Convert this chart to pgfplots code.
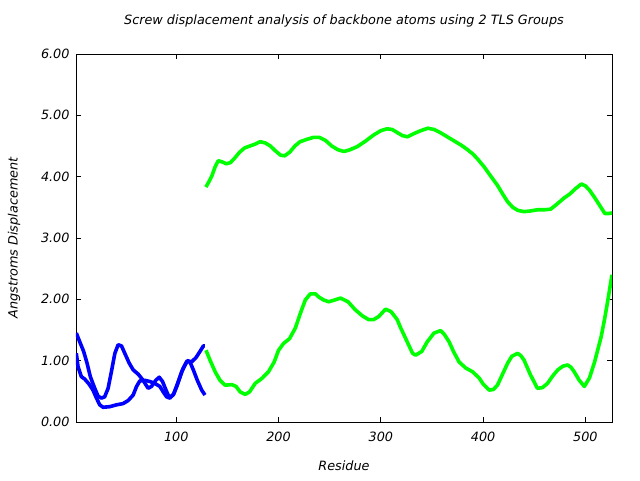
\documentclass[border=0pt]{standalone}
\usepackage{fontspec}
\setmainfont{DejaVu Sans}
\usepackage{pgfplots}
\pgfplotsset{compat=1.18}
\definecolor{gblue}{RGB}{0,0,255}
\definecolor{ggreen}{RGB}{0,255,0}
\newcommand{\gfont}{\fontsize{12.8}{14}\selectfont}
\begin{document}
\gfont
\begin{tikzpicture}
\path[use as bounding box] (0pt,0pt) rectangle (640pt,480pt);
\begin{axis}[
  at={(76pt,58pt)}, anchor=south west,
  scale only axis, width=536pt, height=368pt,
  xmin=2, xmax=526, ymin=0, ymax=6,
  xtick={100,200,300,400,500},
  ytick={0,1,2,3,4,5,6},
  tick align=inside, tick pos=both,
  major tick length=5pt,
  axis line style={line width=0.9pt},
  every tick/.style={black, line width=0.8pt},
  /pgf/number format/assume math mode=true,
  tick label style={font=\gfont\itshape},
  yticklabel style={/pgf/number format/fixed, /pgf/number format/fixed zerofill, /pgf/number format/precision=2, xshift=-2pt},
  xticklabel style={/pgf/number format/fixed, /pgf/number format/precision=0, yshift=-6pt},
  scaled ticks=false,
  title={\itshape Screw displacement analysis of backbone atoms using 2 TLS Groups},
  title style={at={(axis description cs:0.5,1.0734)}, anchor=center, font=\gfont},
  xlabel={\itshape Residue},
  xlabel style={at={(axis description cs:0.5,-0.1196)}, anchor=center, font=\gfont},
  ylabel={\itshape Angstroms Displacement},
  ylabel style={at={(axis description cs:-0.1157,0.5)}, anchor=center, font=\gfont},
  clip=true,
]
% Group 1, upper/lower traces
\addplot[gblue, line width=3.6pt, line join=round] coordinates {
(2.3,1.45)(5.6,1.31)(9.5,1.15)(12.8,0.96)(16,0.74)(20.3,0.55)(23.6,0.42)(26.8,0.39)(30,0.41)(33.4,0.55)(36.6,0.82)(40,1.12)(43.2,1.26)(46.5,1.24)(49.7,1.12)(54,0.96)(57.9,0.85)(62.8,0.78)(67.6,0.68)(72.5,0.55)(75.8,0.58)(80,0.68)(83.4,0.73)(86.6,0.66)(90,0.52)(93.2,0.40)(97,0.44)(101,0.60)(105.3,0.82)(110.2,0.98)(113.4,0.98)(116.7,0.85)(120.6,0.68)(124.9,0.52)(128.1,0.44)
};
\addplot[gblue, line width=3.6pt, line join=round] coordinates {
(2.3,1.12)(4,0.90)(7.2,0.74)(10.5,0.70)(14.7,0.62)(18.6,0.52)(22,0.39)(25.2,0.28)(28.4,0.24)(35,0.25)(41.6,0.28)(48,0.30)(53,0.35)(57.9,0.44)(61.2,0.58)(64.4,0.67)(69.3,0.68)(74.2,0.66)(79,0.63)(84,0.58)(87.3,0.49)(90.6,0.41)(93.8,0.39)(97.6,0.46)(102,0.66)(106.9,0.88)(110.8,1.0)(115,0.98)(119.3,1.05)(123.2,1.15)(126.5,1.24)(128,1.24)
};
% Group 2
\addplot[ggreen, line width=3.6pt, line join=round] coordinates {
(129,3.83)(132,3.92)(135,4.02)(138,4.16)(141,4.26)(145,4.24)(149,4.21)(153,4.23)(157,4.30)(162,4.40)(167,4.47)(172,4.50)(177,4.53)(182,4.57)(187,4.55)(192,4.50)(197,4.42)(202,4.35)(206,4.34)(211,4.40)(216,4.50)(221,4.57)(228,4.61)(234,4.64)(240,4.64)(246,4.59)(252,4.50)(258,4.44)(264,4.41)(270,4.44)(277,4.49)(285,4.58)(293,4.68)(300,4.75)(306,4.78)(311,4.77)(316,4.72)(321,4.67)(326,4.65)(332,4.70)(339,4.75)(346,4.79)(352,4.77)(358,4.72)(365,4.65)(372,4.58)(378,4.52)(384,4.45)(390,4.37)(395,4.28)(401,4.16)(407,4.02)(414,3.86)(419,3.72)(424,3.59)(429,3.50)(434,3.45)(440,3.43)(446,3.44)(453,3.46)(460,3.46)(466,3.47)(472,3.55)(479,3.65)(485,3.72)(490,3.80)(496,3.88)(500,3.85)(504,3.78)(509,3.66)(514,3.53)(519,3.40)(523,3.40)(527,3.41)
};
\addplot[ggreen, line width=3.6pt, line join=round] coordinates {
(129.1,1.17)(133,1.01)(138,0.82)(142.8,0.68)(147.7,0.60)(154.3,0.61)(158.5,0.58)(162.5,0.49)(167.4,0.45)(171.6,0.49)(177.2,0.63)(183.7,0.71)(190.2,0.82)(195.8,0.98)(200,1.17)(204.9,1.28)(210.8,1.36)(216.4,1.53)(221.3,1.77)(226.2,1.99)(231.1,2.09)(236,2.09)(239.2,2.04)(244,1.99)(249,1.96)(255,1.99)(260.5,2.02)(268,1.96)(275,1.83)(282,1.73)(288,1.67)(293,1.67)(298,1.72)(304.6,1.84)(310,1.80)(316,1.67)(319,1.55)(326,1.30)(331,1.12)(334,1.09)(340,1.15)(345.5,1.31)(352,1.45)(358.5,1.49)(362,1.43)(366.7,1.31)(371,1.15)(376.5,0.98)(383,0.88)(389.6,0.82)(396,0.72)(400,0.62)(405.9,0.52)(410,0.53)(414,0.60)(419,0.78)(424,0.96)(428,1.07)(433.7,1.12)(437,1.08)(440,1.01)(446,0.78)(453,0.55)(458,0.56)(463,0.63)(468,0.75)(473,0.85)(478,0.91)(482.7,0.93)(486,0.89)(489,0.82)(494,0.68)(499,0.58)(504,0.72)(509,0.98)(515.4,1.39)(519,1.70)(522,1.99)(526,2.40)
};
\end{axis}
\end{tikzpicture}
\end{document}
